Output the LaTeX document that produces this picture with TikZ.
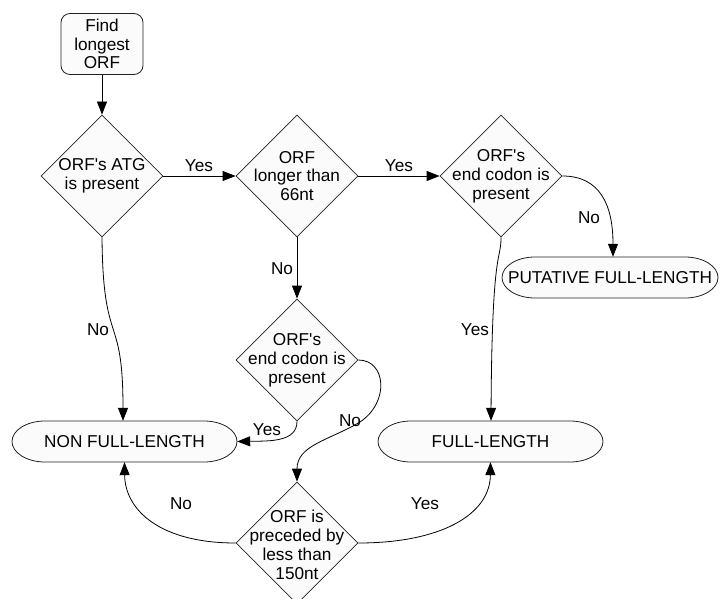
\documentclass[tikz,border=0pt]{standalone}
\usepackage{fontspec}
\setmainfont{Liberation Sans}
\usetikzlibrary{shapes.geometric,arrows.meta}
\definecolor{shapefill}{HTML}{FBFBFB}
\definecolor{edgecol}{HTML}{222222}
\tikzset{
  base/.style={draw=edgecol, line width=0.8pt, fill=shapefill},
  dia/.style={base, diamond, minimum width=122pt, minimum height=122pt, inner sep=0pt},
  term/.style={rectangle, minimum height=41pt, inner sep=0pt},
  startbox/.style={base, rectangle, rounded corners=9pt, minimum width=82pt, minimum height=61pt, inner sep=0pt},
  txt/.style={align=center, font=\fontsize{17.2}{18.8}\selectfont, inner sep=0pt},
  lbl/.style={font=\fontsize{17.2}{18.8}\selectfont, inner sep=0pt},
  conn/.style={draw=black, line width=0.8pt, -{Triangle[length=13pt,width=10pt]}},
}
% stadium with half-ellipse ends: centre x, centre y, half width
\newcommand{\stadiumpath}[3]{%
  \filldraw[base] (#1+#3-33,#2-20.5) arc[start angle=-90,end angle=90,x radius=33,y radius=20.5]
    -- (#1-#3+33,#2+20.5) arc[start angle=90,end angle=270,x radius=33,y radius=20.5] -- cycle;}
\newcommand{\apos}{\textquotesingle}
\begin{document}
\begin{tikzpicture}[x=1pt,y=-1pt]
\useasboundingbox (0,0) rectangle (720,599);

\node[startbox] (start) at (102,44) {};
\node[txt] (starttxt) at (start) {Find\\longest\\ORF};

\node[dia] (d1) at (102,176) {};
\node[txt] (d1txt) at (d1) {ORF\apos s ATG\\is present};

\node[dia] (d2) at (297,176) {};
\node[txt] (d2txt) at (d2) {ORF\\longer than\\66nt};

\node[dia] (d3) at (501,176) {};
\node[txt] (d3txt) at (d3) {ORF\apos s\\end codon is\\present};

\node[dia] (d4) at (297,360) {};
\node[txt] (d4txt) at (d4) {ORF\apos s\\end codon is\\present};

\node[dia] (d5) at (297,543) {};
\node[txt] (d5txt) at (297,545) {ORF is\\preceded by\\less than\\150nt};

\stadiumpath{124.5}{441.5}{112.5}
\node[term, minimum width=225pt] (non) at (124.5,441.5) {};
\node[txt] (nontxt) at (non) {NON FULL-LENGTH};

\stadiumpath{490.5}{441.5}{112.5}
\node[term, minimum width=225pt] (full) at (490.5,441.5) {};
\node[txt] (fulltxt) at (full) {FULL-LENGTH};

\stadiumpath{610}{277.5}{108}
\node[term, minimum width=216pt] (put) at (610,277.5) {};
\node[txt] (puttxt) at (put) {PUTATIVE FULL-LENGTH};

% connectors
\draw[conn] (start.south) -- (d1.north);
\draw[conn] (d1.east) -- (d2.west);
\draw[conn] (d2.east) -- (d3.west);
\draw[conn] (d2.south) -- (d4.north);
\draw[conn] (d3.east) .. controls (600,176) and (613,205) .. (put.north -| 613,0);
\draw[conn] (d3.south) .. controls (501,262) and (492,245) .. (full.north -| 491,0);
\draw[conn] (d1.south) .. controls (103,350) and (123,310) .. (non.north -| 123,0);
\draw[conn] (d4.south) .. controls (297,442) and (270,441) .. (non.east);
\draw[conn] (d4.east) .. controls (386,360) and (390,402) .. (360,422)
                      .. controls (330,440) and (297,445) .. (d5.north);
\draw[conn] (d5.west) .. controls (160,543) and (125,510) .. (non.south);
\draw[conn] (d5.east) .. controls (440,543) and (490,515) .. (full.south);

% labels
\node[lbl] (l1) at (199,166) {Yes};
\node[lbl] (l2) at (399,166) {Yes};
\node[lbl] (l3) at (589,218) {No};
\node[lbl] (l4) at (282,269) {No};
\node[lbl] (l5) at (98,330) {No};
\node[lbl] (l6) at (475,330) {Yes};
\node[lbl] (l7) at (267,430) {Yes};
\node[lbl] (l8) at (350,421) {No};
\node[lbl] (l9) at (181,504) {No};
\node[lbl] (l10) at (425,504) {Yes};
\end{tikzpicture}
\end{document}
